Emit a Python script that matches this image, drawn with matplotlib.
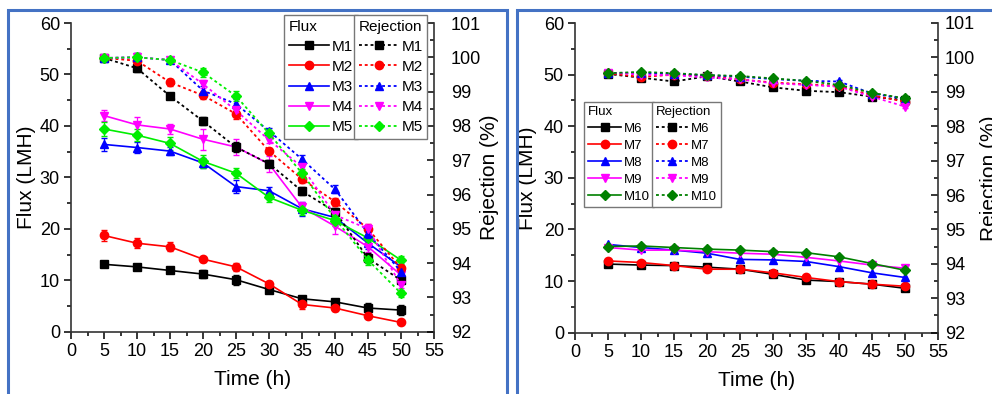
import matplotlib
matplotlib.use("Agg")
import matplotlib.pyplot as plt
from matplotlib.patches import Rectangle
from matplotlib.ticker import MultipleLocator

plt.rcParams['font.family'] = ['Liberation Sans', 'DejaVu Sans']

time_h = [5, 10, 15, 20, 25, 30, 35, 40, 45, 50]

# left panel: M1-M5
flux_a = {
    "M1": [13.1, 12.6, 11.9, 11.2, 10.1, 8.2, 6.4, 5.8, 4.6, 4.2],
    "M2": [18.7, 17.2, 16.5, 14.1, 12.6, 9.3, 5.3, 4.6, 3.1, 1.8],
    "M3": [36.4, 35.8, 35.1, 32.8, 28.2, 27.4, 23.9, 22.2, 17.2, 12.6],
    "M4": [42.0, 40.2, 39.4, 37.4, 35.9, 32.6, 24.2, 20.5, 16.5, 11.0],
    "M5": [39.4, 38.2, 36.6, 33.1, 30.8, 26.1, 23.6, 21.6, 18.2, 13.9],
}
flux_a_err = {
    "M1": [0.6, 0.6, 0.5, 0.8, 1.0, 0.6, 0.5, 0.6, 1.0, 0.9],
    "M2": [1.0, 1.0, 0.9, 0.5, 0.8, 0.5, 0.8, 0.5, 0.5, 0.3],
    "M3": [1.3, 1.0, 0.8, 1.0, 1.2, 0.8, 1.4, 1.0, 1.2, 1.0],
    "M4": [1.0, 1.6, 1.0, 2.0, 1.5, 1.5, 1.0, 1.5, 1.0, 1.2],
    "M5": [1.3, 1.2, 1.3, 1.2, 1.0, 0.8, 1.0, 1.0, 0.8, 0.8],
}
rej_a = {
    "M1": [99.98, 99.68, 98.87, 98.14, 97.38, 96.90, 96.10, 95.50, 94.14, 93.50],
    "M2": [99.98, 99.90, 99.27, 98.89, 98.35, 97.27, 96.45, 95.79, 95.00, 93.85],
    "M3": [99.98, 100.0, 99.92, 99.03, 98.64, 97.85, 97.03, 96.15, 94.87, 93.75],
    "M4": [99.98, 100.0, 99.92, 99.22, 98.45, 97.59, 96.80, 95.40, 95.00, 93.36],
    "M5": [99.98, 100.0, 99.92, 99.56, 98.87, 97.78, 96.62, 95.30, 94.09, 93.12],
}
rej_a_err = [0.08, 0.12, 0.1, 0.12, 0.15, 0.1, 0.12, 0.12, 0.15, 0.1]

# right panel: M6-M10
flux_b = {
    "M6": [13.3, 13.1, 13.0, 12.7, 12.3, 11.3, 10.2, 9.9, 9.4, 8.6],
    "M7": [13.9, 13.6, 13.0, 12.3, 12.3, 11.6, 10.7, 9.9, 9.4, 9.0],
    "M8": [17.1, 16.5, 16.0, 15.4, 14.2, 14.1, 13.8, 12.8, 11.6, 10.7],
    "M9": [16.5, 16.0, 16.0, 15.7, 15.4, 15.2, 14.6, 13.9, 13.1, 12.5],
    "M10": [16.7, 16.8, 16.5, 16.2, 16.0, 15.7, 15.5, 14.7, 13.4, 12.1],
}
rej_b = {
    "M6": [99.52, 99.41, 99.30, 99.45, 99.30, 99.13, 99.03, 98.99, 98.86, 98.76],
    "M7": [99.54, 99.43, 99.50, 99.47, 99.36, 99.27, 99.22, 99.17, 98.90, 98.71],
    "M8": [99.54, 99.55, 99.52, 99.48, 99.44, 99.37, 99.32, 99.30, 98.95, 98.80],
    "M9": [99.56, 99.50, 99.48, 99.42, 99.36, 99.25, 99.20, 99.15, 98.86, 98.57],
    "M10": [99.54, 99.58, 99.54, 99.49, 99.46, 99.39, 99.32, 99.20, 98.97, 98.81],
}

colors_a = ["black", "#ff0000", "#0000ff", "#ff00ff", "#00ee00"]
colors_b = ["black", "#ff0000", "#0000ff", "#ff00ff", "#008000"]
markers = ["s", "o", "^", "v", "D"]

fig = plt.figure(figsize=(9.92, 3.94), dpi=100)
W, H = 992, 394


def px_axes(x0, x1, y0, y1):
    return fig.add_axes([x0 / W, 1 - y1 / H, (x1 - x0) / W, (y1 - y0) / H])


def style(ax, ax2, rpad):
    ax.set_xlim(0, 55)
    ax.set_ylim(0, 60)
    ax2.set_ylim(92, 101)
    ax.xaxis.set_major_locator(MultipleLocator(5))
    ax.xaxis.set_minor_locator(MultipleLocator(2.5))
    ax.yaxis.set_major_locator(MultipleLocator(10))
    ax.yaxis.set_minor_locator(MultipleLocator(5))
    ax2.yaxis.set_major_locator(MultipleLocator(1))
    ax2.yaxis.set_minor_locator(MultipleLocator(0.5))
    ax.tick_params(which="both", direction="out", labelsize=13, width=1.1, pad=3)
    ax.tick_params(which="major", length=5)
    ax.tick_params(which="minor", length=3)
    ax2.tick_params(which="both", direction="in", labelsize=13, width=1.1, pad=rpad)
    ax2.tick_params(which="major", length=5)
    ax2.tick_params(which="minor", length=3)
    for a in (ax, ax2):
        a.spines["top"].set_visible(False)
        for s in a.spines.values():
            s.set_linewidth(1.2)
            s.set_color("#333333")
    ax.spines["right"].set_visible(False)
    ax2.spines["left"].set_visible(False)
    ax2.spines["bottom"].set_visible(False)
    ax.set_xlabel("Time (h)", fontsize=15)
    ax.set_ylabel("Flux (LMH)", fontsize=15)
    ax2.set_ylabel("Rejection (%)", fontsize=15)
    ax.patch.set_visible(False)


def draw(ax, ax2, flux, rej, colors, flux_err, rej_err, ms):
    hf, hr = [], []
    for i, name in enumerate(flux):
        c = colors[i]
        fe = flux_err[name] if flux_err else None
        l = ax.errorbar(time_h, flux[name], yerr=fe, color=c, marker=markers[i],
                        ms=ms if markers[i] != "D" else ms - 1, lw=1.2,
                        capsize=2.5, elinewidth=0.9, ecolor=c, label=name)
        hf.append(l[0])
        l2 = ax2.errorbar(time_h, rej[name], yerr=rej_err, color=c, marker=markers[i],
                          ms=ms if markers[i] != "D" else ms - 1, lw=1.3,
                          ls=(0, (1.6, 1.6)), capsize=2.5, elinewidth=0.9,
                          ecolor=c, label=name)
        hr.append(l2[0])
    return hf, hr


# ---- left panel
ax = px_axes(71, 434, 23, 331.7)
ax2 = ax.twinx()
hf, hr = draw(ax, ax2, flux_a, rej_a, colors_a, flux_a_err, rej_a_err, 6)
style(ax, ax2, 12)
ax.yaxis.set_label_coords(-0.096, 0.5)
ax.xaxis.set_label_coords(0.5, -0.125)
ax2.yaxis.set_label_coords(1.127, 0.5)
leg_kw = dict(fontsize=11, title_fontsize=11, loc="upper left", fancybox=False,
              framealpha=1, edgecolor="#777777", borderaxespad=0, borderpad=0.3,
              labelspacing=0.4, handlelength=2.6, handletextpad=0.2,
              alignment="left")
lg1 = ax2.legend(hf, list(flux_a), title="Flux", bbox_to_anchor=(0.588, 1.026), **leg_kw)
ax2.add_artist(lg1)
ax2.legend(hr, list(rej_a), title="Rejection", bbox_to_anchor=(0.78, 1.026), **leg_kw)

# ---- right panel
bx = px_axes(575, 938, 23, 332.7)
bx2 = bx.twinx()
hf, hr = draw(bx, bx2, flux_b, rej_b, colors_b, None, 0.04, 6)
style(bx, bx2, 5)
bx.yaxis.set_label_coords(-0.105, 0.5)
bx.xaxis.set_label_coords(0.5, -0.125)
bx2.yaxis.set_label_coords(1.116, 0.5)
leg_kw.update(fontsize=9.5, title_fontsize=9.5, labelspacing=0.36, handlelength=2.5)
lg3 = bx2.legend(hf, list(flux_b), title="Flux", bbox_to_anchor=(0.025, 0.746), **leg_kw)
bx2.add_artist(lg3)
bx2.legend(hr, list(rej_b), title="Rejection", bbox_to_anchor=(0.211, 0.746), **leg_kw)

# blue frames around the two panels
blue = "#4472c4"
fig.patches.append(Rectangle((8 / W, -0.05), (507 - 8) / W, 1.05 - 10 / H,
                             transform=fig.transFigure, fill=False, ec=blue, lw=2.2))
fig.patches.append(Rectangle((517 / W, -0.05), 0.6, 1.05 - 10 / H,
                             transform=fig.transFigure, fill=False, ec=blue, lw=2.2))

fig.savefig("out.png", dpi=100)
